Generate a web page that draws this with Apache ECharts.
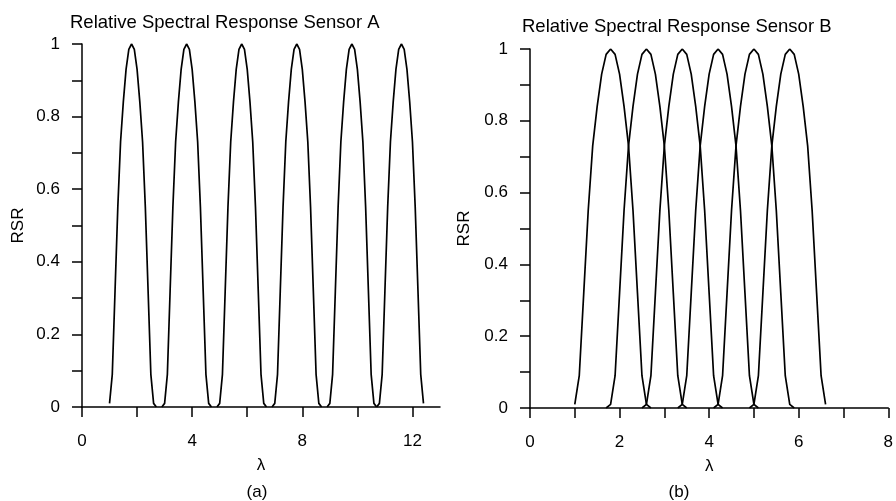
<!DOCTYPE html>
<html>
<head>
<meta charset="utf-8">
<script src="https://cdn.jsdelivr.net/npm/echarts@6/dist/echarts.min.js"></script>
<style>
  html, body { margin: 0; padding: 0; background: #fff; }
  #chart { width: 896px; height: 501px; }
</style>
</head>
<body>
<div id="chart"></div>
<script>
// Sensor A bands: [lambda, RSR]
const bandA1 = [[1.0,0.01],[1.1,0.09],[1.2,0.32],[1.3,0.55],[1.4,0.73],[1.5,0.84],[1.6,0.93],[1.7,0.985],[1.8,1],[1.9,0.985],[2.0,0.93],[2.1,0.84],[2.2,0.73],[2.3,0.55],[2.4,0.32],[2.5,0.09],[2.6,0.01],[2.7,0]];
const bandA2 = [[2.9,0],[3.0,0.01],[3.1,0.09],[3.2,0.32],[3.3,0.55],[3.4,0.73],[3.5,0.84],[3.6,0.93],[3.7,0.985],[3.8,1],[3.9,0.985],[4.0,0.93],[4.1,0.84],[4.2,0.73],[4.3,0.55],[4.4,0.32],[4.5,0.09],[4.6,0.01],[4.7,0]];
const bandA3 = [[4.9,0],[5.0,0.01],[5.1,0.09],[5.2,0.32],[5.3,0.55],[5.4,0.73],[5.5,0.84],[5.6,0.93],[5.7,0.985],[5.8,1],[5.9,0.985],[6.0,0.93],[6.1,0.84],[6.2,0.73],[6.3,0.55],[6.4,0.32],[6.5,0.09],[6.6,0.01],[6.7,0]];
const bandA4 = [[6.9,0],[7.0,0.01],[7.1,0.09],[7.2,0.32],[7.3,0.55],[7.4,0.73],[7.5,0.84],[7.6,0.93],[7.7,0.985],[7.8,1],[7.9,0.985],[8.0,0.93],[8.1,0.84],[8.2,0.73],[8.3,0.55],[8.4,0.32],[8.5,0.09],[8.6,0.01],[8.7,0]];
const bandA5 = [[8.9,0],[9.0,0.01],[9.1,0.09],[9.2,0.32],[9.3,0.55],[9.4,0.73],[9.5,0.84],[9.6,0.93],[9.7,0.985],[9.8,1],[9.9,0.985],[10.0,0.93],[10.1,0.84],[10.2,0.73],[10.3,0.55],[10.4,0.32],[10.5,0.09],[10.6,0.01],[10.7,0]];
const bandA6 = [[10.7,0],[10.8,0.01],[10.9,0.09],[11.0,0.32],[11.1,0.55],[11.2,0.73],[11.3,0.84],[11.4,0.93],[11.5,0.985],[11.6,1],[11.7,0.985],[11.8,0.93],[11.9,0.84],[12.0,0.73],[12.1,0.55],[12.2,0.32],[12.3,0.09],[12.4,0.01]];

// Sensor B bands
const bandB1 = [[1.0,0.01],[1.1,0.09],[1.2,0.32],[1.3,0.55],[1.4,0.73],[1.5,0.84],[1.6,0.93],[1.7,0.985],[1.8,1],[1.9,0.985],[2.0,0.93],[2.1,0.84],[2.2,0.73],[2.3,0.55],[2.4,0.32],[2.5,0.09],[2.6,0.01],[2.7,0]];
const bandB2 = [[1.7,0],[1.8,0.01],[1.9,0.09],[2.0,0.32],[2.1,0.55],[2.2,0.73],[2.3,0.84],[2.4,0.93],[2.5,0.985],[2.6,1],[2.7,0.985],[2.8,0.93],[2.9,0.84],[3.0,0.73],[3.1,0.55],[3.2,0.32],[3.3,0.09],[3.4,0.01],[3.5,0]];
const bandB3 = [[2.5,0],[2.6,0.01],[2.7,0.09],[2.8,0.32],[2.9,0.55],[3.0,0.73],[3.1,0.84],[3.2,0.93],[3.3,0.985],[3.4,1],[3.5,0.985],[3.6,0.93],[3.7,0.84],[3.8,0.73],[3.9,0.55],[4.0,0.32],[4.1,0.09],[4.2,0.01],[4.3,0]];
const bandB4 = [[3.3,0],[3.4,0.01],[3.5,0.09],[3.6,0.32],[3.7,0.55],[3.8,0.73],[3.9,0.84],[4.0,0.93],[4.1,0.985],[4.2,1],[4.3,0.985],[4.4,0.93],[4.5,0.84],[4.6,0.73],[4.7,0.55],[4.8,0.32],[4.9,0.09],[5.0,0.01],[5.1,0]];
const bandB5 = [[4.1,0],[4.2,0.01],[4.3,0.09],[4.4,0.32],[4.5,0.55],[4.6,0.73],[4.7,0.84],[4.8,0.93],[4.9,0.985],[5.0,1],[5.1,0.985],[5.2,0.93],[5.3,0.84],[5.4,0.73],[5.5,0.55],[5.6,0.32],[5.7,0.09],[5.8,0.01],[5.9,0]];
const bandB6 = [[4.9,0],[5.0,0.01],[5.1,0.09],[5.2,0.32],[5.3,0.55],[5.4,0.73],[5.5,0.84],[5.6,0.93],[5.7,0.985],[5.8,1],[5.9,0.985],[6.0,0.93],[6.1,0.84],[6.2,0.73],[6.3,0.55],[6.4,0.32],[6.5,0.09],[6.6,0.01]];

// ticks and labels
const ticksXA = [0, 2, 4, 6, 8, 10, 12];
const labelsXA = [0, 4, 8, 12];
const ticksXB = [0, 1, 2, 3, 4, 5, 6, 7, 8];
const labelsXB = [0, 2, 4, 6, 8];
const ticksY = [0, 0.1, 0.2, 0.3, 0.4, 0.5, 0.6, 0.7, 0.8, 0.9, 1];
const labelsY = [0, 0.2, 0.4, 0.6, 0.8, 1];

const FONT = '"Liberation Sans", Arial, sans-serif';
const black = '#000';

const chart = echarts.init(document.getElementById('chart'));

function xAxisOf(gridIndex, max, ticks, labels) {
  return {
    type: 'value', gridIndex, min: 0, max,
    name: 'λ', nameLocation: 'middle', nameGap: 50,
    nameTextStyle: { color: black, fontSize: 17, fontFamily: FONT },
    axisLine: { onZero: false, lineStyle: { color: black, width: 1.5 } },
    axisTick: { customValues: ticks, length: 10, lineStyle: { color: black, width: 1.5 } },
    axisLabel: { customValues: labels, margin: 26, color: black, fontSize: 17, fontFamily: FONT },
    splitLine: { show: false }
  };
}

function yAxisOf(gridIndex, gap) {
  return {
    type: 'value', gridIndex, min: 0, max: 1,
    name: 'RSR', nameLocation: 'middle', nameGap: gap,
    nameTextStyle: { color: black, fontSize: 17, fontFamily: FONT },
    axisLine: { show: true, onZero: false, lineStyle: { color: black, width: 1.5 } },
    axisTick: { show: true, customValues: ticksY, length: 10, lineStyle: { color: black, width: 1.5 } },
    axisLabel: { customValues: labelsY, margin: 22, color: black, fontSize: 17, fontFamily: FONT },
    splitLine: { show: false }
  };
}

function lineOf(data, idx) {
  return {
    type: 'line', data, xAxisIndex: idx, yAxisIndex: idx,
    showSymbol: false, symbol: 'none', silent: true,
    lineStyle: { color: black, width: 1.7 }
  };
}

const titleStyle = { color: black, fontSize: 18.5, fontWeight: 'normal', fontFamily: FONT };
const captionStyle = { color: black, fontSize: 17, fontWeight: 'normal', fontFamily: FONT };

const option = {
  animation: false,
  backgroundColor: '#fff',
  title: [
    { text: 'Relative Spectral Response Sensor A', left: 70, top: 13, padding: 0, textStyle: titleStyle },
    { text: 'Relative Spectral Response Sensor B', left: 522, top: 17, padding: 0, textStyle: titleStyle },
    { text: '(a)', left: 257, top: 484, padding: 0, textAlign: 'center', textStyle: captionStyle },
    { text: '(b)', left: 679, top: 484, padding: 0, textAlign: 'center', textStyle: captionStyle }
  ],
  grid: [
    { left: 82, top: 44, width: 358, height: 363 },
    { left: 530, top: 49, width: 362, height: 359 }
  ],
  xAxis: [
    xAxisOf(0, 13, ticksXA, labelsXA),
    xAxisOf(1, 8, ticksXB, labelsXB)
  ],
  yAxis: [
    yAxisOf(0, 55),
    yAxisOf(1, 57)
  ],
  series: [
    lineOf(bandA1, 0), lineOf(bandA2, 0), lineOf(bandA3, 0),
    lineOf(bandA4, 0), lineOf(bandA5, 0), lineOf(bandA6, 0),
    lineOf(bandB1, 1), lineOf(bandB2, 1), lineOf(bandB3, 1),
    lineOf(bandB4, 1), lineOf(bandB5, 1), lineOf(bandB6, 1)
  ]
};

chart.setOption(option);
</script>
</body>
</html>
